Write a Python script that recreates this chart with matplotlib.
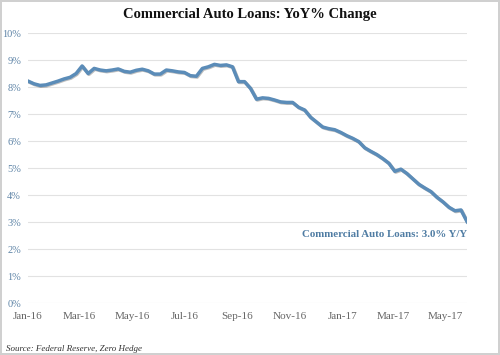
import numpy as np
import pandas as pd
import matplotlib
matplotlib.use("Agg")
import matplotlib.pyplot as plt
import matplotlib.dates as mdates
import matplotlib.patheffects as pe

# weekly YoY % change, Jan-16 .. late May-17
dates = pd.date_range("2016-01-01", periods=74, freq="7D")
yoy = [8.22, 8.12, 8.06, 8.08, 8.15, 8.22, 8.30, 8.36, 8.50, 8.78,
       8.50, 8.69, 8.63, 8.60, 8.63, 8.67, 8.58, 8.55, 8.62, 8.66,
       8.60, 8.48, 8.48, 8.63, 8.60, 8.56, 8.54, 8.42, 8.40, 8.69,
       8.75, 8.84, 8.80, 8.82, 8.75, 8.20, 8.20, 7.95, 7.55, 7.60,
       7.58, 7.52, 7.45, 7.43, 7.43, 7.25, 7.15, 6.88, 6.70, 6.52,
       6.46, 6.42, 6.32, 6.20, 6.10, 5.98, 5.75, 5.62, 5.50, 5.35,
       5.18, 4.88, 4.96, 4.80, 4.60, 4.40, 4.26, 4.13, 3.92, 3.75,
       3.55, 3.42, 3.45, 3.02]

yticks = list(range(0, 11))
ytick_labels = [f"{v}%" for v in yticks]
xtick_dates = pd.date_range("2016-01-01", "2017-05-01", freq="2MS")

title = "Commercial Auto Loans: YoY% Change"
label = "Commercial Auto Loans: 3.0% Y/Y"
source = "Source: Federal Reserve, Zero Hedge"

serif = ["Liberation Serif", "DejaVu Serif"]
plt.rcParams["font.family"] = serif

fig = plt.figure(figsize=(5, 3.55), dpi=100)
fig.patch.set_edgecolor("#d0d0d0")
fig.patch.set_linewidth(1.5)
ax = fig.add_axes([0.056, 0.146, 0.878, 0.761])

ax.plot(dates, yoy, color="#5b8cb8", lw=2.5, solid_joinstyle="round",
        path_effects=[pe.SimpleLineShadow(offset=(0.6, -0.6), alpha=0.25),
                      pe.Normal()])

ax.set_ylim(0, 10)
ax.set_xlim(dates[0], dates[-1])
ax.set_yticks(yticks)
ax.set_yticklabels(ytick_labels)
ax.set_xticks(xtick_dates)
ax.xaxis.set_major_formatter(mdates.DateFormatter("%b-%y"))
ax.grid(axis="y", color="#e2e2e2", lw=0.8)
ax.set_axisbelow(True)
for s in ax.spines.values():
    s.set_visible(False)
ax.tick_params(length=0)
ax.tick_params(axis="y", pad=5, labelsize=7.5, labelcolor="#5d83a6")
ax.tick_params(axis="x", pad=6, labelsize=8, labelcolor="#666666")

ax.text(dates[-1], 2.55, label, ha="right", va="center", fontsize=7.8,
        fontweight="bold", color="#4f7ca3")

fig.text(0.5, 0.96, title, ha="center", va="center", fontsize=10.5,
         fontweight="bold", color="#111111")
fig.text(0.012, 0.017, source, ha="left", va="center", fontsize=6.5,
         style="italic", color="#333333")

fig.savefig("out.png", dpi=100)
